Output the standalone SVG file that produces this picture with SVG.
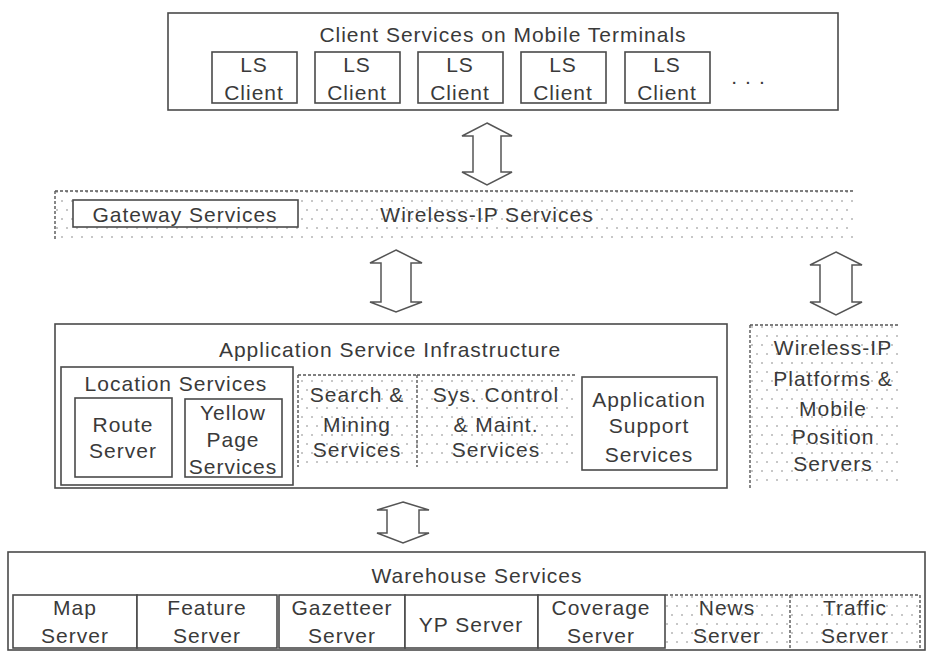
<svg xmlns="http://www.w3.org/2000/svg" width="934" height="652" viewBox="0 0 934 652">
  <defs>
    <pattern id="dots" x="0" y="0" width="10" height="18" patternUnits="userSpaceOnUse">
      <circle cx="2" cy="3" r="0.8" fill="#808080"/>
      <circle cx="7" cy="12" r="0.8" fill="#808080"/>
    </pattern>
    <style>
      .box { fill: #fff; stroke: #4a4a4a; stroke-width: 1.6; }
      .dotfill { fill: url(#dots); stroke: none; }
      .dash { fill: none; stroke: #555; stroke-width: 1.4; stroke-dasharray: 3 2; }
      .arrow { fill: #fff; stroke: #555; stroke-width: 1.5; stroke-linejoin: miter; }
      text { font-family: "Liberation Sans", Arial, sans-serif; font-size: 21px; letter-spacing: 1px; fill: #3a3a3a; text-anchor: middle; }
    </style>
  </defs>

  <rect width="934" height="652" fill="#fff"/>

  <!-- Client tier -->
  <g id="client-services">
    <rect class="box" x="168" y="13" width="670" height="97"/>
    <text x="503" y="42">Client Services on Mobile Terminals</text>
  </g>
  <g id="ls-client-1">
    <rect class="box" x="212" y="52" width="85" height="51"/>
    <text x="254" y="72">LS</text><text x="254" y="100">Client</text>
  </g>
  <g id="ls-client-2">
    <rect class="box" x="315" y="52" width="85" height="51"/>
    <text x="357" y="72">LS</text><text x="357" y="100">Client</text>
  </g>
  <g id="ls-client-3">
    <rect class="box" x="418" y="52" width="85" height="51"/>
    <text x="460" y="72">LS</text><text x="460" y="100">Client</text>
  </g>
  <g id="ls-client-4">
    <rect class="box" x="521" y="52" width="85" height="51"/>
    <text x="563" y="72">LS</text><text x="563" y="100">Client</text>
  </g>
  <g id="ls-client-5">
    <rect class="box" x="625" y="52" width="85" height="51"/>
    <text x="667" y="72">LS</text><text x="667" y="100">Client</text>
  </g>
  <g id="more-clients">
    <text x="752" y="84" style="letter-spacing:8px">...</text>
  </g>

  <!-- Wireless-IP band -->
  <g id="wireless-ip-services">
    <rect class="dotfill" x="55" y="191" width="798" height="48"/>
    <path class="dash" d="M55,191 H853 M55,191 V239"/>
    <text x="487" y="222">Wireless-IP Services</text>
  </g>
  <g id="gateway-services">
    <rect class="box" x="73" y="200" width="225" height="27"/>
    <text x="185" y="222">Gateway Services</text>
  </g>

  <!-- Application tier -->
  <g id="application-service-infrastructure">
    <rect class="box" x="55" y="324" width="672" height="164"/>
    <text x="390" y="357">Application Service Infrastructure</text>
  </g>
  <g id="location-services">
    <rect class="box" x="61" y="367" width="232" height="118"/>
    <text x="176" y="391">Location Services</text>
  </g>
  <g id="route-server">
    <rect class="box" x="75" y="398" width="97" height="79"/>
    <text x="123" y="432">Route</text><text x="123" y="458">Server</text>
  </g>
  <g id="yellow-page-services">
    <rect class="box" x="185" y="399" width="97" height="78"/>
    <text x="233" y="420">Yellow</text><text x="233" y="447">Page</text><text x="233" y="474">Services</text>
  </g>
  <g id="search-mining-services">
    <rect class="dotfill" x="298" y="375" width="119" height="92"/>
    <path class="dash" d="M298,375 H417 M298,375 V467 M417,375 V467"/>
    <text x="357" y="402">Search &amp;</text><text x="357" y="432">Mining</text><text x="357" y="457">Services</text>
  </g>
  <g id="sys-control-services">
    <rect class="dotfill" x="417" y="375" width="158" height="92"/>
    <path class="dash" d="M417,375 H575"/>
    <text x="496" y="402">Sys. Control</text><text x="496" y="432">&amp; Maint.</text><text x="496" y="457">Services</text>
  </g>
  <g id="application-support-services">
    <rect class="box" x="582" y="377" width="135" height="93"/>
    <text x="649" y="407">Application</text><text x="649" y="433">Support</text><text x="649" y="462">Services</text>
  </g>

  <g id="wireless-platforms">
    <rect class="dotfill" x="750" y="325" width="148" height="163"/>
    <path class="dash" d="M750,325 H898 M750,325 V488"/>
    <text x="833" y="355">Wireless-IP</text>
    <text x="833" y="386">Platforms &amp;</text>
    <text x="833" y="416">Mobile</text>
    <text x="833" y="444">Position</text>
    <text x="833" y="471">Servers</text>
  </g>

  <!-- Warehouse tier -->
  <g id="warehouse-services">
    <rect class="box" x="8" y="552" width="917" height="98"/>
    <text x="477" y="583">Warehouse Services</text>
  </g>
  <g id="map-server">
    <rect class="box" x="13" y="595" width="124" height="53"/>
    <text x="75" y="615">Map</text><text x="75" y="643">Server</text>
  </g>
  <g id="feature-server">
    <rect class="box" x="137" y="595" width="140" height="53"/>
    <text x="207" y="615">Feature</text><text x="207" y="643">Server</text>
  </g>
  <g id="gazetteer-server">
    <rect class="box" x="279" y="595" width="126" height="53"/>
    <text x="342" y="615">Gazetteer</text><text x="342" y="643">Server</text>
  </g>
  <g id="yp-server">
    <rect class="box" x="405" y="595" width="133" height="53"/>
    <text x="471" y="632">YP Server</text>
  </g>
  <g id="coverage-server">
    <rect class="box" x="538" y="595" width="127" height="53"/>
    <text x="601" y="615">Coverage</text><text x="601" y="643">Server</text>
  </g>
  <g id="news-server">
    <rect class="dotfill" x="666" y="596" width="124" height="52"/>
    <path class="dash" d="M665,595 H790 M790,595 V648"/>
    <text x="727" y="615">News</text><text x="727" y="643">Server</text>
  </g>
  <g id="traffic-server">
    <rect class="dotfill" x="791" y="596" width="129" height="52"/>
    <path class="dash" d="M790,595 H920 M920,595 V648"/>
    <text x="855" y="615">Traffic</text><text x="855" y="643">Server</text>
  </g>

  <!-- Connectors: hollow double-headed block arrows -->
  <g id="connectors">
    <path class="arrow" d="M487,123 L512,136 L501,136 L501,172 L512,172 L487,185 L462,172 L473,172 L473,136 L462,136 Z"/>
    <path class="arrow" d="M396,250 L422,263 L411,263 L411,302 L422,302 L396,312 L370,302 L381,302 L381,263 L370,263 Z"/>
    <path class="arrow" d="M836,252 L862,265 L852,265 L852,302 L862,302 L836,315 L810,302 L820,302 L820,265 L810,265 Z"/>
    <path class="arrow" d="M403,502 L429,510 L419,510 L419,533 L429,533 L403,543 L377,533 L387,533 L387,510 L377,510 Z"/>
  </g>
</svg>
